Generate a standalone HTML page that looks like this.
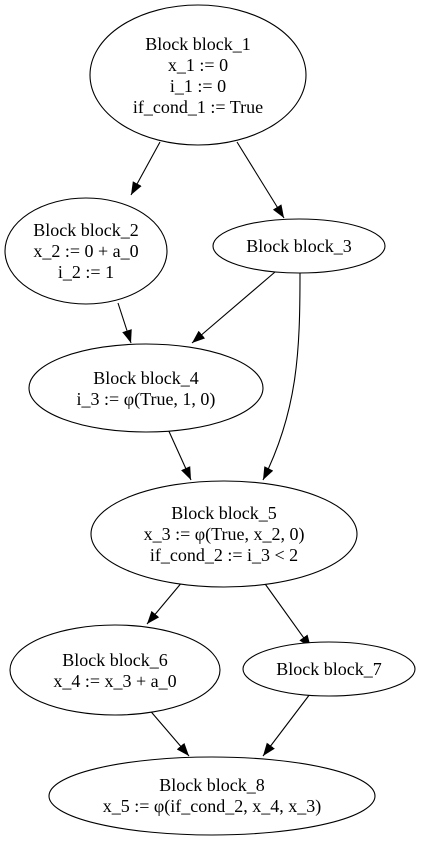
<!DOCTYPE html>
<html><head><meta charset="utf-8"><style>
body{margin:0;background:#fff}
svg text{font-family:"Liberation Serif",serif;font-size:18px;text-anchor:middle;fill:#000}
</style></head><body>
<svg width="423" height="839" viewBox="0 0 423 839" xmlns="http://www.w3.org/2000/svg">
<defs><marker id="ah" markerWidth="14" markerHeight="12" refX="13" refY="5" orient="auto" markerUnits="userSpaceOnUse"><path d="M0,0 L13,5 L0,10 Z" fill="#000"/></marker></defs>
<g fill="none" stroke="#000" stroke-width="1.1" marker-end="url(#ah)">
<path d="M160,142 L131,195"/>
<path d="M237,142 L284,218"/>
<path d="M118,303 L131,343"/>
<path d="M275,272 L192,343"/>
<path d="M300,273 C300,350 298,410 263,480"/>
<path d="M167,427 L191,480"/>
<path d="M183,581 L147,624"/>
<path d="M263,581 L311,648"/>
<path d="M147,707 L189,756"/>
<path d="M310,694 L263,756"/>
</g>
<g fill="#fff" stroke="#000" stroke-width="1.1">
<ellipse cx="198" cy="75" rx="108" ry="70"/>
<ellipse cx="86" cy="251" rx="81" ry="53"/>
<ellipse cx="299" cy="246" rx="86" ry="27"/>
<ellipse cx="146" cy="388" rx="117" ry="44"/>
<ellipse cx="224" cy="534" rx="133" ry="53"/>
<ellipse cx="115" cy="670" rx="105" ry="45"/>
<ellipse cx="329" cy="669" rx="86" ry="27"/>
<ellipse cx="212" cy="796" rx="163" ry="39"/>
</g>
<g>
<text x="198" y="50">Block block_1</text><text x="198" y="71">x_1 := 0</text><text x="198" y="92">i_1 := 0</text><text x="198" y="113">if_cond_1 := True</text>
<text x="86" y="236">Block block_2</text><text x="86" y="257">x_2 := 0 + a_0</text><text x="86" y="278">i_2 := 1</text>
<text x="299" y="252">Block block_3</text>
<text x="146" y="384">Block block_4</text><text x="146" y="405">i_3 := φ(True, 1, 0)</text>
<text x="224" y="519">Block block_5</text><text x="224" y="540">x_3 := φ(True, x_2, 0)</text><text x="224" y="561">if_cond_2 := i_3 &lt; 2</text>
<text x="115" y="666">Block block_6</text><text x="115" y="687">x_4 := x_3 + a_0</text>
<text x="329" y="675">Block block_7</text>
<text x="212" y="791">Block block_8</text><text x="212" y="812">x_5 := φ(if_cond_2, x_4, x_3)</text>
</g>
</svg>
</body></html>
